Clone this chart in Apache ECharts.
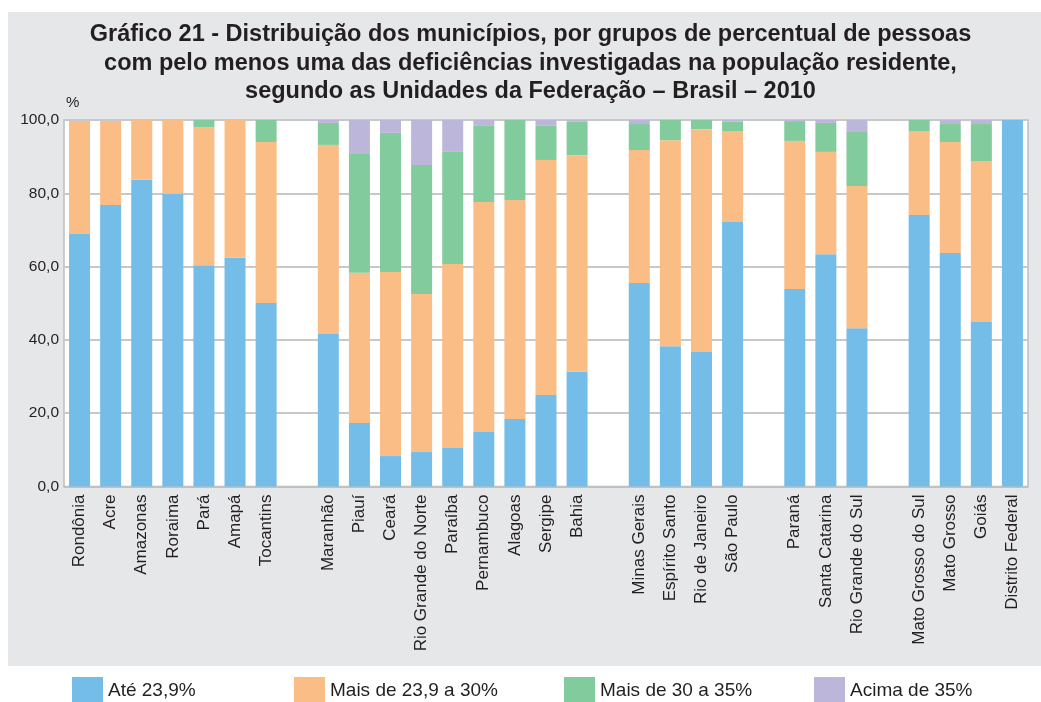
<!DOCTYPE html>
<html>
<head>
<meta charset="utf-8">
<script src="https://cdn.jsdelivr.net/npm/echarts@6/dist/echarts.min.js"></script>
<style>
html,body{margin:0;padding:0;background:#fff;}
#chart{width:1041px;height:702px;}
</style>
</head>
<body>
<div id="chart"></div>
<script>
const categories = ['Rondônia','Acre','Amazonas','Roraima','Pará','Amapá','Tocantins','',
  'Maranhão','Piauí','Ceará','Rio Grande do Norte','Paraíba','Pernambuco','Alagoas','Sergipe','Bahia','',
  'Minas Gerais','Espírito Santo','Rio de Janeiro','São Paulo','',
  'Paraná','Santa Catarina','Rio Grande do Sul','',
  'Mato Grosso do Sul','Mato Grosso','Goiás','Distrito Federal'];
const seriesNames = ['Até 23,9%','Mais de 23,9 a 30%','Mais de 30 a 35%','Acima de 35%'];
const ate23 = [68.9,76.8,83.7,79.9,60.4,62.4,50.1,'-',41.6,17.3,8.3,9.4,10.5,14.9,18.4,25.0,31.3,'-',55.5,38.3,36.7,72.2,'-',53.9,63.4,43.2,'-',74.1,63.7,44.9,100];
const de23a30 = [30.8,22.9,16.3,20.1,37.7,37.6,43.9,'-',51.6,41.0,50.2,43.1,50.2,62.7,59.8,64.1,59.1,'-',36.3,56.2,60.8,24.7,'-',40.4,27.9,38.8,'-',22.8,30.3,43.9,0];
const de30a35 = [0,0,0,0,1.9,0,6.0,'-',6.0,32.4,38.0,35.2,30.8,21.0,21.8,9.3,9.1,'-',7.1,5.5,2.5,2.6,'-',5.4,7.9,14.7,'-',3.1,4.9,10.1,0];
const acima35 = [0,0,0,0,0,0,0,'-',0.8,9.3,3.5,12.3,8.5,1.4,0,1.6,0.5,'-',1.1,0,0,0.5,'-',0.3,0.8,3.3,'-',0,1.1,1.1,0];
const yTicks = [0,20,40,60,80,100];
const titleLines = ['Gráfico 21 - Distribuição dos municípios, por grupos de percentual de pessoas',
  'com pelo menos uma das deficiências investigadas na população residente,',
  'segundo as Unidades da Federação – Brasil – 2010'];
const colors = ['#74bde8','#fabd86','#82cb9c','#bcb6da'];
const font = 'Liberation Sans, Arial, sans-serif';
const dataArr = [ate23, de23a30, de30a35, acima35];
const legendLefts = [72, 294, 564, 814];
const titleY = [35, 63.5, 92];

const chart = echarts.init(document.getElementById('chart'), null, {renderer:'canvas'});
const option = {
  animation:false,
  color: colors,
  textStyle:{fontFamily:font, color:'#231f20'},
  graphic:[
    {type:'rect', z:-10, shape:{x:8,y:12,width:1033,height:654}, style:{fill:'#e6e7e9'}}
  ].concat(titleLines.map((t,i)=>({
    type:'text', x:530.5, y:titleY[i],
    style:{text:t, font:'bold 23.5px '+font, fill:'#231f20', textAlign:'center', textVerticalAlign:'middle'}
  }))).concat([
    {type:'text', x:66, y:103, style:{text:'%', font:'15px '+font, fill:'#231f20', textAlign:'left', textVerticalAlign:'middle'}}
  ]),
  legend: seriesNames.map((n,i)=>({
    data:[n], left:legendLefts[i], top:677, padding:0, itemWidth:31, itemHeight:28, icon:'rect',
    textStyle:{fontSize:19, fontFamily:font, color:'#231f20'}, selectedMode:false
  })),
  grid:{left:64, right:13, top:120, bottom:215.5, show:true, backgroundColor:'#fff', borderColor:'#bfbfbf', borderWidth:1.5, containLabel:false},
  xAxis:{
    type:'category', data:categories,
    axisTick:{show:false},
    axisLine:{show:true, lineStyle:{color:'#bfbfbf', width:1.5}},
    axisLabel:{rotate:90, interval:0, margin:8, fontSize:17, fontFamily:font, color:'#231f20'}
  },
  yAxis:{
    type:'value', min:0, max:100, interval:20,
    axisLine:{show:false}, axisTick:{show:false},
    splitLine:{lineStyle:{color:'#c8c8c8', width:2}},
    axisLabel:{margin:5, fontSize:15.5, fontFamily:font, color:'#231f20',
      formatter:(v)=> yTicks.includes(v) ? v.toFixed(1).replace('.',',') : ''}
  },
  series: seriesNames.map((n,i)=>({
    name:n, type:'bar', stack:'total', barWidth:21, data:dataArr[i],
    itemStyle:{color:colors[i]}, emphasis:{disabled:true}
  }))
};
chart.setOption(option);
</script>
</body>
</html>
